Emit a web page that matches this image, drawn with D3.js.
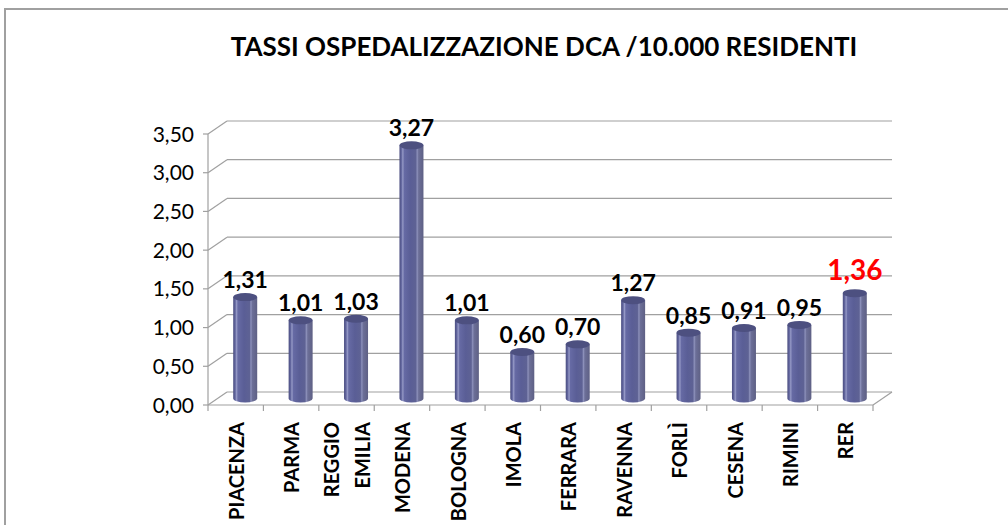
<!DOCTYPE html>
<html>
<head>
<meta charset="utf-8">
<script src="https://cdn.jsdelivr.net/npm/d3@7"></script>
<style>
  body { margin: 0; background: #fff; }
  svg { display: block; font-family: Lato, "Open Sans", sans-serif; }
</style>
</head>
<body>
<svg id="chart" width="1008" height="525"></svg>
<script>
// //////// DATA
const categories = ["PIACENZA", "PARMA", "REGGIO EMILIA", "MODENA", "BOLOGNA", "IMOLA",
  "FERRARA", "RAVENNA", "FORLÌ", "CESENA", "RIMINI", "RER"];
const rates = [1.31, 1.01, 1.03, 3.27, 1.01, 0.60, 0.70, 1.27, 0.85, 0.91, 0.95, 1.36];
const yTicks = [0, 0.5, 1, 1.5, 2, 2.5, 3, 3.5];
const titleText = "TASSI OSPEDALIZZAZIONE DCA /10.000 RESIDENTI";

// //////// LAYOUT
const svg = d3.select("#chart");
const fmt = (v) => v.toFixed(2).replace(".", ",");
const grid = "#a0a0a0";
const depth = { dx: 19, dy: -13 }; // 3D wall offset

const x = d3.scaleBand().domain(categories).range([208, 873]).padding(0);
const y = d3.scaleLinear().domain([0, 3.5]).range([405, 134]);

// outer frame
svg.append("rect")
  .attr("x", 5).attr("y", 9).attr("width", 1020).attr("height", 540)
  .attr("fill", "none").attr("stroke", "#a0a0a0").attr("stroke-width", 2);

// title
svg.append("text")
  .attr("x", 544).attr("y", 56)
  .attr("text-anchor", "middle")
  .attr("font-size", 26).attr("font-weight", "bold")
  .text(titleText);

// back wall gridlines + side wall diagonals
const walls = svg.append("g").attr("stroke", grid).attr("stroke-width", 1.2).attr("fill", "none");
yTicks.forEach((t) => {
  const yy = y(t);
  walls.append("line")
    .attr("x1", x.range()[0] + depth.dx).attr("x2", x.range()[1] + depth.dx)
    .attr("y1", yy + depth.dy).attr("y2", yy + depth.dy);
  walls.append("line")
    .attr("x1", x.range()[0]).attr("y1", yy)
    .attr("x2", x.range()[0] + depth.dx).attr("y2", yy + depth.dy);
});
// floor front line and right edge
walls.append("line")
  .attr("x1", x.range()[0]).attr("x2", x.range()[1])
  .attr("y1", y(0)).attr("y2", y(0));
walls.append("line")
  .attr("x1", x.range()[1]).attr("y1", y(0))
  .attr("x2", x.range()[1] + depth.dx).attr("y2", y(0) + depth.dy);

// y axis
walls.append("line")
  .attr("x1", x.range()[0]).attr("x2", x.range()[0])
  .attr("y1", y(0)).attr("y2", y(3.5));
yTicks.forEach((t) => {
  walls.append("line")
    .attr("x1", x.range()[0] - 5).attr("x2", x.range()[0])
    .attr("y1", y(t)).attr("y2", y(t));
});
svg.append("g")
  .selectAll("text")
  .data(yTicks)
  .join("text")
  .attr("x", 194)
  .attr("y", (d) => y(d))
  .attr("dy", "0.36em")
  .attr("text-anchor", "end")
  .attr("font-size", 21)
  .text(fmt);

// category ticks
categories.concat(["__end"]).forEach((c, i) => {
  const xx = i < categories.length ? x(c) : x.range()[1];
  walls.append("line")
    .attr("x1", xx).attr("x2", xx)
    .attr("y1", y(0)).attr("y2", y(0) + 6);
});

// cylinder gradient
const defs = svg.append("defs");
const grad = defs.append("linearGradient").attr("id", "cyl").attr("x1", 0).attr("x2", 1).attr("y1", 0).attr("y2", 0);
[[0, "#4a4d80"], [0.08, "#62669e"], [0.14, "#9599c6"], [0.2, "#666aa4"], [0.45, "#5a5e96"],
 [0.68, "#5e6294"], [0.74, "#8c90ba"], [0.8, "#6c6f98"], [1, "#5e6084"]]
  .forEach(([o, c]) => grad.append("stop").attr("offset", o).attr("stop-color", c));

const bw = 24, ry = 4;
const cx = (c) => x(c) + x.bandwidth() / 2 + depth.dx / 2;
const base = y(0) + depth.dy / 2;

const bars = svg.append("g")
  .selectAll("g")
  .data(categories.map((c, i) => ({ c, v: rates[i] })))
  .join("g");

bars.append("path")
  .attr("fill", "url(#cyl)")
  .attr("d", (d) => {
    const top = y(d.v) + depth.dy / 2;
    const l = cx(d.c) - bw / 2, r = cx(d.c) + bw / 2;
    return `M${l},${top} L${l},${base} A${bw / 2},${ry} 0 0 0 ${r},${base} L${r},${top} Z`;
  });
bars.append("ellipse")
  .attr("cx", (d) => cx(d.c))
  .attr("cy", (d) => y(d.v) + depth.dy / 2)
  .attr("rx", bw / 2).attr("ry", ry)
  .attr("fill", "#4d5080");

// value labels
bars.append("text")
  .attr("x", (d) => cx(d.c))
  .attr("y", (d) => y(d.v) + depth.dy / 2 - (d.c === "RER" ? 13 : 9))
  .attr("text-anchor", "middle")
  .attr("font-weight", "bold")
  .attr("font-size", (d) => (d.c === "RER" ? 28 : 23))
  .attr("fill", (d) => (d.c === "RER" ? "#ff0000" : "#000"))
  .text((d) => fmt(d.v));

// category labels, rotated
const catG = svg.append("g");
categories.forEach((c) => {
  const words = c.split(" ");
  const xc = x(c) + x.bandwidth() / 2 + 1;
  words.forEach((w, j) => {
    const off = words.length > 1 ? (j - (words.length - 1) / 2) * 31 : 0;
    catG.append("text")
      .attr("transform", `translate(${xc + off},422) rotate(-90)`)
      .attr("text-anchor", "end")
      .attr("dy", "0.36em")
      .attr("font-size", 20)
      .attr("font-weight", "bold")
      .text(w);
  });
});
</script>
</body>
</html>
